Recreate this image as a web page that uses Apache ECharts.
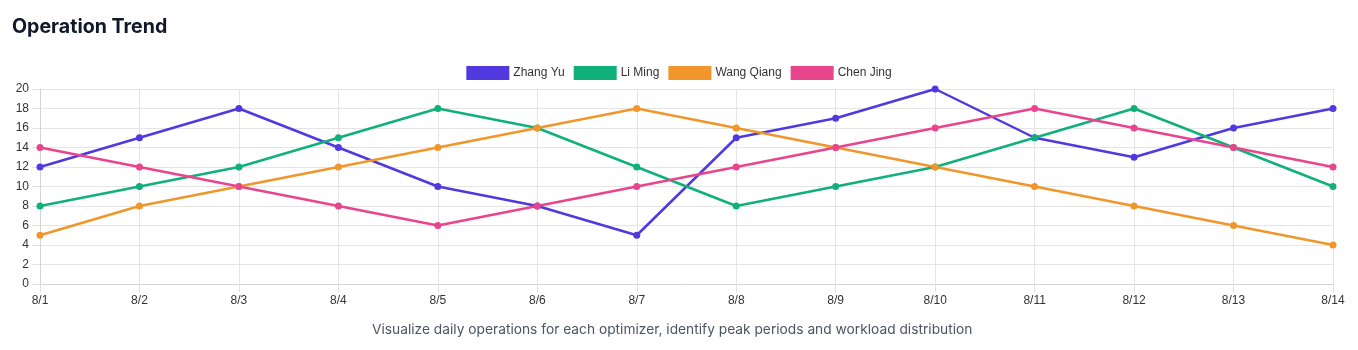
<!DOCTYPE html>
<html>
<head>
<meta charset="utf-8">
<script src="https://cdn.jsdelivr.net/npm/echarts@6/dist/echarts.min.js"></script>
<style>
html,body{margin:0;padding:0;background:#fff;}
#c{width:1358px;height:350px;}
</style>
</head>
<body>
<div id="c"></div>
<script>
const categories = ['8/1','8/2','8/3','8/4','8/5','8/6','8/7','8/8','8/9','8/10','8/11','8/12','8/13','8/14'];
const zhangYu   = [12,15,18,14,10,8,5,15,17,20,15,13,16,18];
const liMing    = [8,10,12,15,18,16,12,8,10,12,15,18,14,10];
const wangQiang = [5,8,10,12,14,16,18,16,14,12,10,8,6,4];
const chenJing  = [14,12,10,8,6,8,10,12,14,16,18,16,14,12];
const seriesNames = ['Zhang Yu','Li Ming','Wang Qiang','Chen Jing'];
const seriesColors = ['#4f39df','#10b07a','#f0962a','#e8458d'];
const seriesData = [zhangYu, liMing, wangQiang, chenJing];

const chart = echarts.init(document.getElementById('c'), null, {renderer:'canvas'});
const font = 'Liberation Sans, Arial, Helvetica, sans-serif';
chart.setOption({
  animation:false,
  title:{
    text:'Operation Trend',
    left:7, top:12,
    textStyle:{fontFamily:'Inter, sans-serif', fontSize:19.6, fontWeight:'bold', color:'#111827'}
  },
  graphic:[{
    type:'text', left:372, top:323,
    style:{text:'Visualize daily operations for each optimizer, identify peak periods and workload distribution',
      font:'13.75px Inter, sans-serif', fill:'#4b5563'}
  }],
  legend:{
    top:61, left:'center',
    itemWidth:43, itemHeight:14, itemGap:9,
    icon:'rect',
    textStyle:{fontFamily:font, fontSize:12, color:'#333', padding:[0,0,0,-1]},
    data:seriesNames
  },
  grid:{left:40, right:25, top:89, bottom:66, containLabel:false},
  xAxis:{
    type:'category', data:categories, boundaryGap:false,
    axisLine:{lineStyle:{color:'#d4d4d4'}},
    axisTick:{show:true, length:8, lineStyle:{color:'#e0e0e0'}},
    axisLabel:{fontFamily:font, fontSize:12, color:'#333', margin:11},
    splitLine:{show:true, lineStyle:{color:'#e5e5e5'}}
  },
  yAxis:{
    type:'value', min:0, max:20, interval:2,
    axisLine:{show:true, lineStyle:{color:'#d4d4d4'}},
    axisTick:{show:true, length:8, lineStyle:{color:'#e0e0e0'}},
    axisLabel:{fontFamily:font, fontSize:12, color:'#333', margin:11},
    splitLine:{show:true, lineStyle:{color:'#e5e5e5'}}
  },
  series: seriesNames.map((n,i)=>({
    name:n, type:'line', data:seriesData[i],
    symbol:'circle', symbolSize:7, showSymbol:true,
    lineStyle:{width:2.5, color:seriesColors[i]},
    itemStyle:{color:seriesColors[i]},
    emphasis:{disabled:true}
  }))
});
</script>
</body>
</html>
